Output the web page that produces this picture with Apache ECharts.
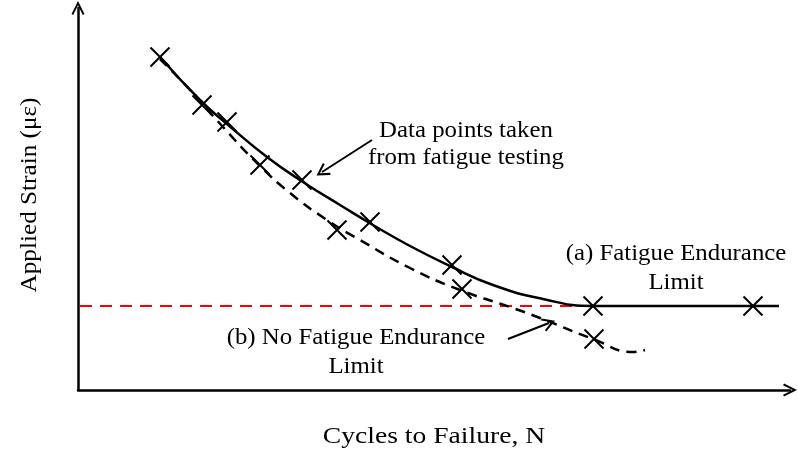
<!DOCTYPE html>
<html>
<head>
<meta charset="utf-8">
<script src="https://cdn.jsdelivr.net/npm/echarts@6/dist/echarts.min.js"></script>
<style>
  html, body { margin: 0; padding: 0; background: #fff; }
  #chart { width: 798px; height: 459px; }
</style>
</head>
<body>
<div id="chart"></div>
<script>
(function () {
  // curve (a): with fatigue endurance limit (arbitrary units)
  var curveA = [[82, 333], [122, 290], [149, 266], [189, 233], [225, 208], [262, 185],
    [295, 165], [332, 144], [372, 124], [415, 105], [465, 91], [515, 84], [701, 84]];
  // curve (b): no fatigue endurance limit
  var curveB = [[82, 331], [112, 300], [145, 263], [179, 227], [212, 197], [249, 170],
    [282, 150], [332, 122], [382, 100], [432, 83], [462, 72], [515, 51], [555, 38], [567, 40]];
  // test data points
  var pointsA = [[82, 333], [149, 268], [224, 210], [292, 168], [374, 125], [515, 84], [675, 84]];
  var pointsB = [[124, 285], [182, 225], [259, 160], [384, 101], [516, 51]];
  // endurance limit level and its extent
  var limitLine = [[2, 84], [555, 84]];
  // annotation arrows [from, to]
  var arrowData = [[294, 250], [244, 218]];
  var arrowNoLimit = [[430, 51], [471, 67]];

  var font = '"Liberation Serif", "Times New Roman", serif';
  var chevron = 'path://M0,10L5,0L10,10L8.7,10.8L5,3.3L1.3,10.8Z';
  var cross = 'path://M0,0L10,10M10,0L0,10';

  var chart = echarts.init(document.getElementById('chart'), null, { renderer: 'canvas' });

  function arrow(pair) {
    return {
      type: 'line', data: [], silent: true,
      markLine: {
        silent: true, animation: false,
        symbol: ['none', chevron], symbolSize: [14, 13],
        lineStyle: { color: '#000', width: 2, type: 'solid' },
        label: { show: false },
        data: [[{ coord: pair[0] }, { coord: pair[1] }]]
      }
    };
  }

  // text stretched sideways like the source figure
  function label(text, x, y, size, sx, rot) {
    return {
      type: 'text', x: x, y: y, scaleX: sx, rotation: rot || 0, silent: true,
      style: { text: text, fill: '#000', font: size + 'px ' + font, align: 'center', verticalAlign: 'middle' }
    };
  }

  chart.setOption({
    animation: false,
    grid: { left: 78, right: 8, top: 8, bottom: 69 },
    xAxis: {
      type: 'value', min: 0, max: 712,
      axisLine: { lineStyle: { color: '#000', width: 2.5 }, symbol: ['none', chevron], symbolSize: [16, 14] },
      axisTick: { show: false }, axisLabel: { show: false }, splitLine: { show: false }
    },
    yAxis: {
      type: 'value', min: 0, max: 382,
      axisLine: { lineStyle: { color: '#000', width: 2.5 }, symbol: ['none', chevron], symbolSize: [16, 14] },
      axisTick: { show: false }, axisLabel: { show: false }, splitLine: { show: false }
    },
    series: [
      {
        name: 'limit', type: 'line', data: limitLine, symbol: 'none',
        lineStyle: { color: '#ff0000', width: 2, type: [12, 8] }, z: 1
      },
      {
        name: 'a', type: 'line', data: curveA, smooth: 0.5, symbol: 'none',
        lineStyle: { color: '#000', width: 2.5 }, z: 2
      },
      {
        name: 'b', type: 'line', data: curveB, smooth: 0.5, symbol: 'none',
        lineStyle: { color: '#000', width: 2.5, type: [10, 7] }, z: 2
      },
      {
        name: 'pa', type: 'scatter', data: pointsA, symbol: cross, symbolSize: 19,
        itemStyle: { color: 'none', borderColor: '#000', borderWidth: 2, opacity: 1 }, z: 3
      },
      {
        name: 'pb', type: 'scatter', data: pointsB, symbol: cross, symbolSize: 19,
        itemStyle: { color: 'none', borderColor: '#000', borderWidth: 2, opacity: 1 }, z: 3
      },
      arrow(arrowData),
      arrow(arrowNoLimit)
    ],
    graphic: [
      label('Cycles to Failure, N', 434, 437, 24, 1.15),
      label('Applied Strain (με)', 30, 195, 24, 1.05, Math.PI / 2),
      label('Data points taken', 466, 131, 23, 1.08),
      label('from fatigue testing', 466, 158, 23, 1.08),
      label('(a) Fatigue Endurance', 676, 254, 23, 1.08),
      label('Limit', 676, 283, 23, 1.08),
      label('(b) No Fatigue Endurance', 356, 338, 23, 1.08),
      label('Limit', 356, 367, 23, 1.08)
    ]
  });
  window.addEventListener('resize', function () { chart.resize(); });
})();
</script>
</body>
</html>
